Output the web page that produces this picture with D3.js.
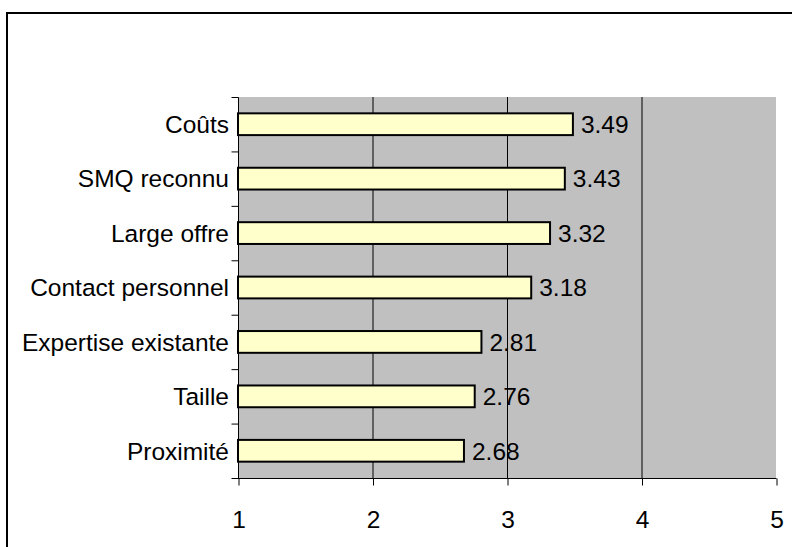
<!DOCTYPE html>
<html>
<head>
<meta charset="utf-8">
<script src="https://cdn.jsdelivr.net/npm/d3@7/dist/d3.min.js"></script>
<style>
  html, body { margin: 0; padding: 0; background: #fff; }
  svg { display: block; }
  text { font-family: "Liberation Sans", Arial, sans-serif; fill: #000; }
</style>
</head>
<body>
<svg id="chart" width="792" height="547"></svg>
<script>
// Critères de choix (moyennes)
const categories = ["Coûts", "SMQ reconnu", "Large offre", "Contact personnel", "Expertise existante", "Taille", "Proximité"];
const values = [3.49, 3.43, 3.32, 3.18, 2.81, 2.76, 2.68];
const xTicks = [1, 2, 3, 4, 5];

const svg = d3.select("#chart");
const W = 792, H = 547;
const plot = { left: 238, right: 776, top: 97, bottom: 478 };
const fontSize = 24.5;

// outer frame
svg.append("rect")
  .attr("x", 7).attr("y", 13)
  .attr("width", W + 20).attr("height", H + 20)
  .attr("fill", "#fff").attr("stroke", "#000").attr("stroke-width", 2);

const x = d3.scaleLinear().domain([1, 5]).range([plot.left, plot.right]);
const y = d3.scaleBand().domain(categories)
  .range([plot.top, plot.bottom])
  .paddingInner(0.6).paddingOuter(0.3);
// category boundaries (for the tick marks on the category axis)
const yEdges = d3.scaleLinear().domain([0, categories.length]).range([plot.top, plot.bottom]);

// plot area
svg.append("rect")
  .attr("x", plot.left).attr("y", plot.top)
  .attr("width", plot.right - plot.left).attr("height", plot.bottom - plot.top)
  .attr("fill", "#c0c0c0");

// vertical gridlines
svg.append("g").selectAll("line")
  .data(xTicks.filter(d => d > 1 && d < 5))
  .join("line")
  .attr("x1", d => x(d) + 0.5).attr("x2", d => x(d) + 0.5)
  .attr("y1", plot.top).attr("y2", plot.bottom)
  .attr("stroke", "#000").attr("stroke-width", 1);

// bars
svg.append("g").selectAll("rect")
  .data(categories)
  .join("rect")
  .attr("x", x(1))
  .attr("y", d => y(d))
  .attr("width", (d, i) => x(values[i]) - x(1))
  .attr("height", y.bandwidth())
  .attr("fill", "#ffffcc")
  .attr("stroke", "#000").attr("stroke-width", 2);

// value labels
svg.append("g").selectAll("text")
  .data(categories)
  .join("text")
  .attr("x", (d, i) => x(values[i]) + 8)
  .attr("y", d => y(d) + y.bandwidth() / 2)
  .attr("dy", "0.36em")
  .attr("font-size", fontSize)
  .text((d, i) => values[i].toFixed(2));

// x axis
const xAxis = d3.axisBottom(x).tickValues(xTicks).tickSize(7).tickPadding(25)
  .tickFormat(d3.format("d"));
const gx = svg.append("g").attr("transform", `translate(0.5,${plot.bottom + 0.5})`).call(xAxis);
gx.select(".domain").attr("stroke", "#000").attr("d", `M${plot.left - 0.5},0H${plot.right}`);
gx.selectAll(".tick line").attr("stroke", "#000");
gx.selectAll(".tick text").attr("font-size", fontSize).attr("font-family", "Liberation Sans, Arial, sans-serif").attr("fill", "#000");

// category axis: line and boundary tick marks
const gy = svg.append("g").attr("transform", `translate(${plot.left + 0.5},0.5)`);
gy.append("line")
  .attr("x1", 0).attr("x2", 0)
  .attr("y1", plot.top).attr("y2", plot.bottom)
  .attr("stroke", "#000");
gy.selectAll("line.edge")
  .data(d3.range(categories.length + 1))
  .join("line").attr("class", "edge")
  .attr("x1", -7).attr("x2", 0)
  .attr("y1", d => yEdges(d)).attr("y2", d => yEdges(d))
  .attr("stroke", "#000");

// category labels
svg.append("g").selectAll("text")
  .data(categories)
  .join("text")
  .attr("x", plot.left - 9)
  .attr("y", d => y(d) + y.bandwidth() / 2)
  .attr("dy", "0.36em")
  .attr("text-anchor", "end")
  .attr("font-size", fontSize)
  .text(d => d);
</script>
</body>
</html>
